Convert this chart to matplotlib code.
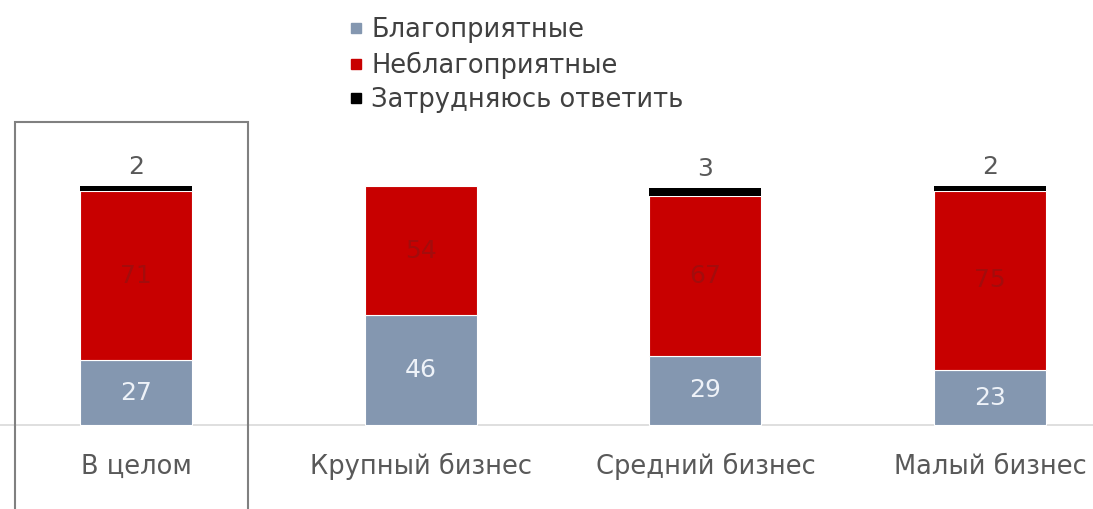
import matplotlib
matplotlib.use("Agg")
import matplotlib.pyplot as plt
from matplotlib.lines import Line2D
from matplotlib.patches import Rectangle

plt.rcParams['font.family'] = ['DejaVu Sans']

categories = ["В целом", "Крупный бизнес", "Средний бизнес", "Малый бизнес"]
favorable = [27, 46, 29, 23]
unfavorable = [71, 54, 67, 75]
hard_to_say = [2, 0, 3, 2]
series_names = ["Благоприятные", "Неблагоприятные", "Затрудняюсь ответить"]

c_fav = "#8497b0"
c_unf = "#c80000"
c_hts = "#000000"

W, H = 1093, 509
fig = plt.figure(figsize=(W / 100, H / 100), dpi=100)
ax = fig.add_axes([0, 0, 1, 1])

px_unit_x = 284.7
x0_px = 136
base_px = 425
px_per_pct = 239 / 100
ax.set_xlim(-x0_px / px_unit_x, (W - x0_px) / px_unit_x)
ax.set_ylim(-(H - base_px) / px_per_pct, base_px / px_per_pct)
ax.axis('off')

x = list(range(len(categories)))
bw = 112 / px_unit_x
ax.bar(x, favorable, width=bw, color=c_fav, edgecolor='white', linewidth=0.8, zorder=2)
ax.bar(x, unfavorable, width=bw, bottom=favorable, color=c_unf, edgecolor='white', linewidth=0.8, zorder=2)
bottom3 = [f + u for f, u in zip(favorable, unfavorable)]
ax.bar(x, hard_to_say, width=bw, bottom=bottom3, color=c_hts, linewidth=0, zorder=3)

# baseline
ax.axhline(0, color='#d9d9d9', linewidth=1.2, zorder=1)

fs = 18
for i in x:
    ax.text(i, favorable[i] / 2, str(favorable[i]), ha='center', va='center',
            color='#eef2f8', fontsize=fs)
    ax.text(i, favorable[i] + unfavorable[i] / 2, str(unfavorable[i]), ha='center', va='center',
            color='#a30c0c', fontsize=fs)
    if hard_to_say[i] > 0:
        ax.text(i, bottom3[i] + hard_to_say[i] + 8, str(hard_to_say[i]), ha='center', va='center',
                color='#595959', fontsize=fs)
    ax.text(i, -17.5, categories[i], ha='center', va='center', color='#595959', fontsize=18.5)

# highlight box around first category
bx0 = (15 - x0_px) / px_unit_x
bx1 = (248 - x0_px) / px_unit_x
by1 = (base_px - 122) / px_per_pct
by0 = -(H - base_px) / px_per_pct - 5
ax.add_patch(Rectangle((bx0, by0), bx1 - bx0, by1 - by0, fill=False,
                       edgecolor='#808080', linewidth=1.5, zorder=4, clip_on=False))

handles = [Line2D([], [], marker='s', linestyle='none', markersize=7, color=c)
           for c in (c_fav, c_unf, c_hts)]
fig.legend(handles, series_names, loc='upper left', bbox_to_anchor=(348 / W, 1 - 17 / H),
           frameon=False, fontsize=18.5, handlelength=0.6, handletextpad=0.3,
           labelspacing=0.33, borderaxespad=0, borderpad=0, labelcolor='#404040')

fig.savefig("out.png", dpi=100)
